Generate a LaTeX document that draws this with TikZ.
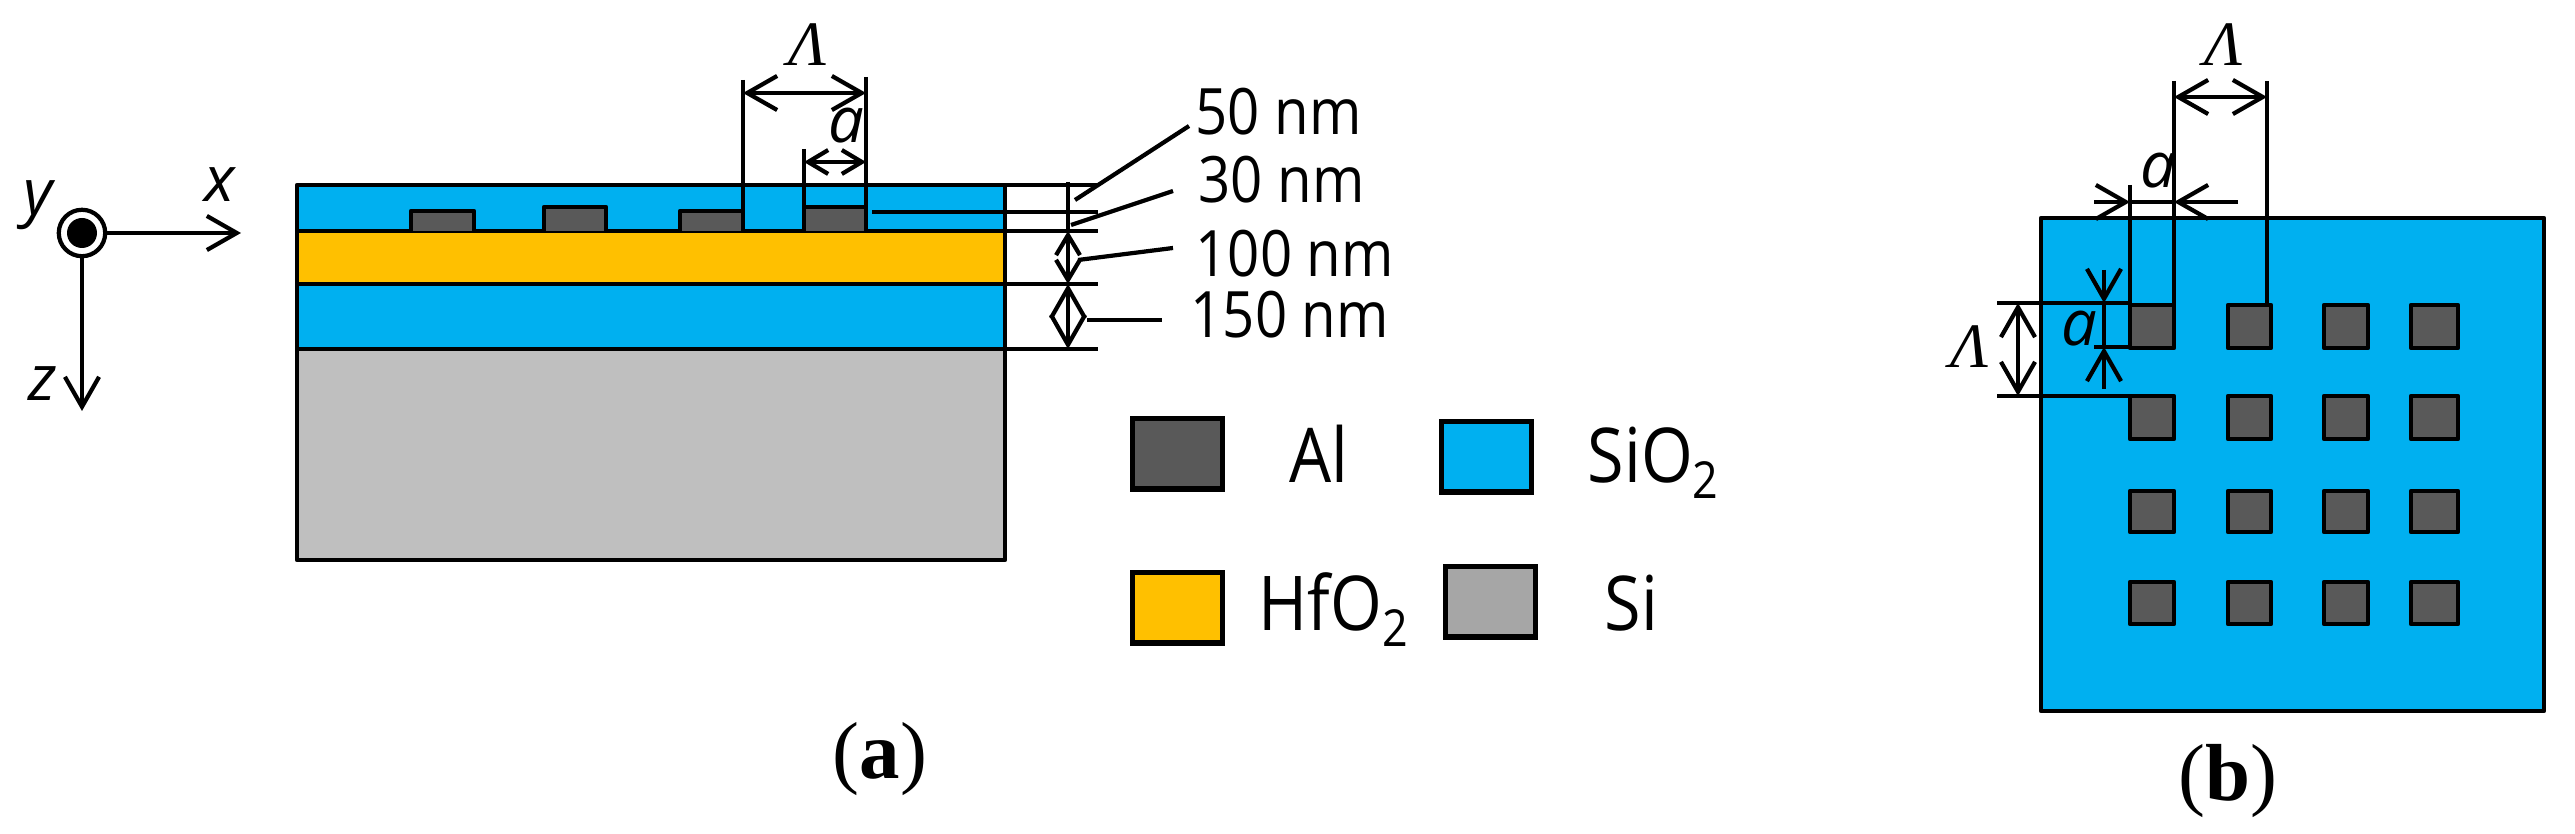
\documentclass[tikz,border=0pt]{standalone}
\usepackage{fontspec}
\usetikzlibrary{arrows.meta}
\setmainfont{Open Sans}
\newfontfamily\labelfont[FakeStretch=0.88]{Open Sans}
\newfontfamily\timesfont{Liberation Serif}
\newcommand{\lowtwo}{\raisebox{-4.5pt}{\fontsize{14.5}{16}\selectfont 2}}
\definecolor{oxide}{HTML}{00B0F0}
\definecolor{hafnia}{HTML}{FFC000}
\definecolor{alu}{HTML}{595959}
\definecolor{silicon}{HTML}{BFBFBF}
\definecolor{siliconkey}{HTML}{A6A6A6}
\tikzstyle{rule}=[line width=1.35pt, line join=round]
\tikzstyle{fine}=[line width=1.2pt]
\tikzstyle{block}=[rule, draw=black, fill=alu]
\tikzstyle{key}=[draw=black, line width=1.5pt, minimum width=25.5pt, minimum height=20pt,
    inner sep=0pt, anchor=north west]
\tikzstyle{dim}=[fine, <->, >={Straight Barb[length=8.5pt, width=9.7pt]}]
\tikzstyle{dims}=[fine, <->, >={Straight Barb[length=5.7pt, width=6.8pt]}]
\tikzstyle{dimin}=[fine, ->, >={Straight Barb[length=8.5pt, width=9.7pt]}]
\tikzstyle{txt}=[inner sep=0pt, anchor=base west]
\tikzstyle{nm}=[txt, font=\labelfont\fontsize{18.2}{20}\selectfont]
\tikzstyle{mat}=[txt, font=\labelfont\fontsize{21.5}{24}\selectfont]
\tikzstyle{var}=[txt, font=\itshape\fontsize{18}{20}\selectfont]
\tikzstyle{lam}=[txt, font=\timesfont\itshape\fontsize{18}{20}\selectfont]
\tikzstyle{figcap}=[txt, font=\timesfont\fontsize{23}{26}\selectfont]
\begin{document}
\begin{tikzpicture}[x=0.01cm, y=-0.01cm]
    \useasboundingbox (0,0) rectangle (2575,834);
    % axes
    \coordinate (o) at (82,233);
    \coordinate (xend) at (241,233);
    \coordinate (zend) at (82,411);
    \node (ydot) [circle, draw=black, line width=1.2pt, minimum size=13.2pt, inner sep=0pt] at (o) {};
    \fill (o) circle (15);
    \draw[dimin] (ydot) -- (xend);
    \draw[dimin] (ydot) -- (zend);
    \node (xlab) [var] at (204,202) {x};
    \node (ylab) [var] at (23,215) {y};
    \node (zlab) [var] at (28,401) {z};
    % layers
    \draw[rule, fill=silicon] (297,349) rectangle (1005,560);
    \draw[rule, fill=oxide] (297,284) rectangle (1005,349);
    \draw[rule, fill=hafnia] (297,231) rectangle (1005,284);
    \draw[rule, fill=oxide] (297,185) rectangle (1005,231);
    \draw[block] (411,231) |- (474,211) -- (474,231);
    \draw[block] (544,231) |- (606,207) -- (606,231);
    \draw[block] (680,231) |- (743,211) -- (743,231);
    \draw[block] (804,231) |- (866,207) -- (866,231);
    % pitch and width marks
    \coordinate (la) at (743,93);
    \coordinate (lb) at (866,93);
    \coordinate (wa) at (804,162);
    \coordinate (wb) at (866,162);
    \draw[fine] (743,80) -- (743,231);
    \draw[fine] (866,77) -- (866,231);
    \draw[fine] (804,149) -- (804,231);
    \draw[dim] (la) -- (lb);
    \draw[dims] (wa) -- (wb);
    \node (lam1) [lam] at (788,66) {Λ};
    \node (a1) [var] at (828,143) {a};
    % thickness marks
    \foreach \yy in {185,231,284,349}
        \draw[rule] (1005,\yy) -- (1098,\yy);
    \draw[rule] (872,212) -- (1098,212);
    \coordinate (ta) at (1068,182);
    \coordinate (tb) at (1068,231);
    \coordinate (tc) at (1068,284);
    \coordinate (td) at (1068,349);
    \draw[fine] (ta) -- (tb);
    \draw[dims] (tb) -- (tc);
    \draw[dim] (tc) -- (td);
    \draw[fine] (1075,200) -- (1189,126);
    \draw[fine] (1071,225) -- (1173,191);
    \draw[fine] (1078,260) -- (1173,248);
    \draw[fine] (1087,320) -- (1162,320);
    \node (t50) [nm] at (1195,135) {50 nm};
    \node (t30) [nm] at (1198,203) {30 nm};
    \node (t100) [nm] at (1195,277) {100 nm};
    \node (t150) [nm] at (1190,338) {150 nm};
    % legend
    \node (kal) [key, fill=alu] at (1130,416) {};
    \node (kox) [key, fill=oxide] at (1439,419) {};
    \node (khf) [key, fill=hafnia] at (1130,570) {};
    \node (ksi) [key, fill=siliconkey] at (1443,564) {};
    \node (tal) [mat] at (1289,483) {Al};
    \node (tox) [mat] at (1587,483) {SiO\lowtwo};
    \node (thf) [mat] at (1258,631) {HfO\lowtwo};
    \node (tsi) [mat] at (1604,631) {Si};
    \node (capa) [figcap] at (832,779) {(\textbf{a})};
    % top view
    \draw[rule, fill=oxide] (2041,218) rectangle (2544,711);
    \foreach \xa/\xb in {2130/2174,2228/2271,2324/2368,2411/2458}
        \foreach \ya/\yb in {305/348,396/439,491/532,582/624}
            \draw[block] (\xa,\ya) rectangle (\xb,\yb);
    \draw[fine] (2130,185) -- (2130,305);
    \draw[fine] (2174,81) -- (2174,305);
    \draw[fine] (2267,81) -- (2267,305);
    \coordinate (pa) at (2174,97);
    \coordinate (pb) at (2267,97);
    \draw[dim] (pa) -- (pb);
    \node (lam2) [lam] at (2204,66) {Λ};
    \draw[dimin] (2094,202) -- (2130,202);
    \draw[dimin] (2238,202) -- (2174,202);
    \draw[fine] (2130,202) -- (2174,202);
    \node (a2) [var] at (2140,188) {a};
    \draw[fine] (1997,303) -- (2130,303);
    \draw[fine] (1997,396) -- (2130,396);
    \draw[fine] (2094,347) -- (2130,347);
    \coordinate (qa) at (2018,303);
    \coordinate (qb) at (2018,396);
    \draw[dim] (qa) -- (qb);
    \node (lam3) [lam] at (1950,368) {Λ};
    \draw[dimin] (2104,270) -- (2104,303);
    \draw[dimin] (2104,389) -- (2104,347);
    \draw[fine] (2104,303) -- (2104,347);
    \node (a3) [var] at (2061,346) {a};
    \node (capb) [figcap] at (2178,801) {(\textbf{b})};
\end{tikzpicture}
\end{document}
